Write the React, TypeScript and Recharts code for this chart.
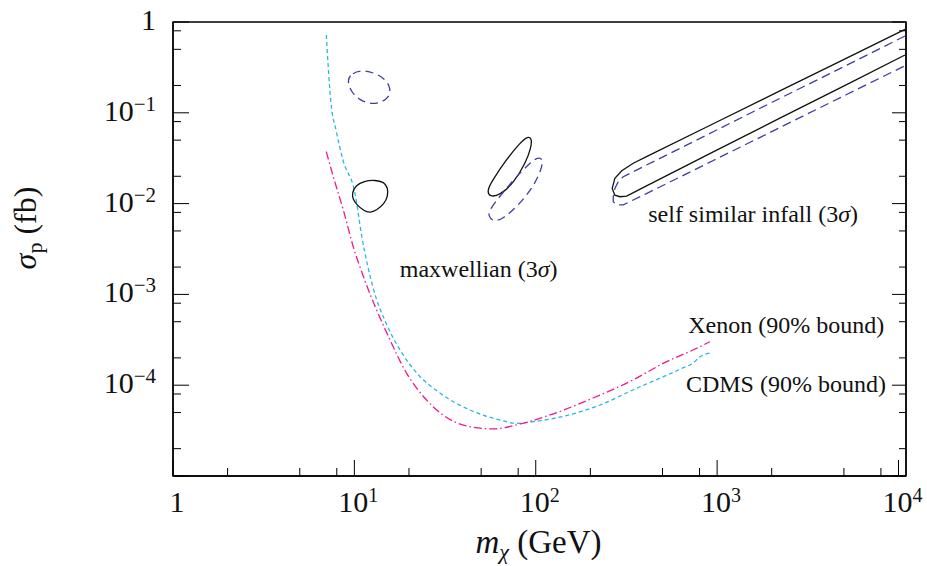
import React from 'react';
import { ComposedChart, Line, XAxis, YAxis, Scatter, ReferenceArea } from 'recharts';

const FONT = '"Liberation Serif", "Times New Roman", serif';

// Axis ticks
const xTicks = [1, 2, 5, 8, 10, 20, 50, 80, 100, 200, 500, 800, 1000, 2000, 5000, 8000, 10000];
const yTicks = [1e-5, 2e-5, 5e-5, 8e-5, 1e-4, 2e-4, 5e-4, 8e-4, 1e-3, 2e-3, 5e-3, 8e-3, 1e-2, 2e-2, 5e-2, 8e-2, 0.1, 0.2, 0.5, 0.8, 1];

// CDMS 90% bound
const cdmsMass = [7.0, 7.43, 7.92, 8.65, 10.07, 11.0, 12.65, 15.3, 18.3, 22.1, 29.6, 43.4, 63.5, 78.7, 96.5, 226, 343, 648, 736, 804, 913];
const cdmsSigma = [0.72, 0.128, 0.0647, 0.0302, 0.0131, 0.00429, 0.00121, 4.37e-4, 2.26e-4, 1.36e-4, 8.2e-5, 5.33e-5, 4.14e-5, 3.8e-5, 3.96e-5, 6.05e-5, 8.86e-5, 1.55e-4, 1.75e-4, 2.05e-4, 2.26e-4];

// Xenon 90% bound
const xenonMass = [7.0, 7.65, 8.69, 9.86, 11.4, 15.1, 19.4, 25.0, 30.8, 43.4, 58.3, 78.5, 120, 207, 343, 527, 736, 913];
const xenonSigma = [0.0373, 0.0198, 0.00851, 0.00335, 0.00144, 3.76e-4, 1.36e-4, 6.87e-5, 4.7e-5, 3.49e-5, 3.3e-5, 3.65e-5, 4.7e-5, 7.23e-5, 1.14e-4, 1.82e-4, 2.44e-4, 3.01e-4];

// Maxwellian 3 sigma regions (solid)
const maxLowMass = [9.7, 10.2, 11.3, 13.0, 14.6, 15.3, 15.3, 14.6, 13.3, 12.2, 11.3, 10.3, 9.8];
const maxLowSigma = [0.0131, 0.016, 0.0177, 0.0182, 0.0173, 0.0149, 0.0121, 0.0099, 0.0085, 0.0079, 0.0083, 0.0097, 0.0112];
const maxMidMass = [53.8, 57.4, 68.5, 81.8, 90.6, 95.3, 94.1, 88.3, 75.8, 63.5, 55.9];
const maxMidSigma = [0.0138, 0.0177, 0.0302, 0.0465, 0.0555, 0.0515, 0.041, 0.0287, 0.0169, 0.0124, 0.0118];

// Maxwellian 3 sigma regions (dashed)
const maxLowDMass = [9.1, 9.7, 11.15, 13.0, 14.75, 15.9, 15.5, 13.8, 12.2, 10.7, 9.58];
const maxLowDSigma = [0.23, 0.274, 0.296, 0.274, 0.236, 0.188, 0.146, 0.128, 0.125, 0.138, 0.17];
const maxMidDMass = [54.5, 55.9, 63.5, 76.8, 92.9, 102.8, 109.4, 108.2, 97.8, 79.8, 65.9, 58.8];
const maxMidDSigma = [0.0073, 0.0087, 0.0121, 0.0191, 0.028, 0.0326, 0.031, 0.0247, 0.0156, 0.0094, 0.0068, 0.0063];

// Self similar infall 3 sigma regions
const infallMass = [10860, 5176, 2218, 952, 408, 345, 298, 273, 264, 273, 291, 317, 408, 952, 2218, 5176, 10860];
const infallSigma = [0.831, 0.4, 0.174, 0.0757, 0.0329, 0.0278, 0.023, 0.019, 0.0147, 0.0124, 0.0119, 0.0121, 0.0157, 0.0371, 0.0872, 0.204, 0.433];
const infallDMass = [10860, 5176, 2218, 952, 408, 304, 285, 273, 267.5, 267.5, 279, 304, 408, 952, 2218, 5176, 10860];
const infallDSigma = [0.701, 0.334, 0.144, 0.0619, 0.0266, 0.0198, 0.0174, 0.0147, 0.0119, 0.0105, 0.0097, 0.0097, 0.0129, 0.0298, 0.0688, 0.159, 0.33];

// Annotations
const noteText = ['maxwellian (3σ)', 'self similar infall (3σ)', 'Xenon (90% bound)', 'CDMS (90% bound)'];
const noteMass = [17.8, 417, 693, 673];
const noteSigma = [1.57e-3, 6.2e-3, 3.73e-4, 8.5e-5];

const zip = (xs: number[], ys: number[]) => xs.map((x, i) => ({ x, y: ys[i] }));
const notes = noteText.map((text, i) => ({ x: noteMass[i], y: noteSigma[i], text }));

const isMajor = (v: number) => Math.abs(Math.log10(v) - Math.round(Math.log10(v))) < 1e-6;

const CYAN = '#26b6ec';
const MAGENTA = '#ec1a8c';
const BLUE = '#3d3da6';
const BLACK = '#111';

function XTick(props: any) {
  const { x, y, payload } = props;
  const v = payload.value;
  const major = isMajor(v);
  const e = Math.round(Math.log10(v));
  return (
    <g>
      <line x1={x} x2={x} y1={y} y2={y - (major ? 16 : 8)} stroke="#000" strokeWidth={1} />
      {major && (
        <text x={x + 4} y={y + 36} textAnchor="middle" fontFamily={FONT} fontSize={30} fill={BLACK}>
          {e === 0 ? '1' : (
            <>
              <tspan>10</tspan>
              <tspan fontSize={20} dy={-10}>{e}</tspan>
            </>
          )}
        </text>
      )}
    </g>
  );
}

function YTickLeft(props: any) {
  const { x, y, payload } = props;
  const v = payload.value;
  const major = isMajor(v);
  const e = Math.round(Math.log10(v));
  return (
    <g>
      <line x1={x} x2={x + (major ? 16 : 8)} y1={y} y2={y} stroke="#000" strokeWidth={1} />
      {major && e > -5 && (
        <text x={x - 17} y={y + 8} textAnchor="end" fontFamily={FONT} fontSize={30} fill={BLACK}>
          {e === 0 ? '1' : (
            <>
              <tspan>10</tspan>
              <tspan fontSize={21} dy={-10}>{'\u2212' + Math.abs(e)}</tspan>
            </>
          )}
        </text>
      )}
    </g>
  );
}

function YTickRight(props: any) {
  const { x, y, payload } = props;
  const major = isMajor(payload.value);
  return <line x1={x} x2={x - (major ? 14 : 7)} y1={y} y2={y} stroke="#000" strokeWidth={1} />;
}

function XLabel(props: any) {
  const vb = props.viewBox;
  return (
    <text x={vb.x + vb.width / 2 - 1} y={vb.y + 77} textAnchor="middle" fontFamily={FONT} fontSize={33} fill={BLACK}>
      <tspan fontStyle="italic">m</tspan>
      <tspan fontStyle="italic" fontSize={22} dy={6}>χ</tspan>
      <tspan dy={-6}>{' (GeV)'}</tspan>
    </text>
  );
}

function YLabel(props: any) {
  const vb = props.viewBox;
  const cx = vb.x + 36;
  const cy = vb.y + 206;
  return (
    <text x={cx} y={cy} transform={`rotate(-90, ${cx}, ${cy})`} textAnchor="middle" fontFamily={FONT} fontSize={32} fill={BLACK}>
      <tspan fontStyle="italic">σ</tspan>
      <tspan fontSize={22} dy={6}>p</tspan>
      <tspan dy={-6}>{' (fb)'}</tspan>
    </text>
  );
}

function NoteShape(props: any) {
  const { cx, cy, payload } = props;
  const parts = String(payload.text).split('σ');
  return (
    <text x={cx} y={cy} fontFamily={FONT} fontSize={24} fill={BLACK}>
      {parts.map((p, i) => (
        <React.Fragment key={i}>
          {i > 0 && <tspan fontStyle="italic">σ</tspan>}
          <tspan>{p}</tspan>
        </React.Fragment>
      ))}
    </text>
  );
}

export default function App() {
  const common = { dataKey: 'y', dot: false, activeDot: false, isAnimationActive: false, strokeWidth: 1.3 } as any;
  return (
    <div style={{ position: 'absolute', left: 0, top: 0 }}>
      <ComposedChart width={927} height={566} margin={{ top: 22, right: 0, bottom: 0, left: 0 }}>
        <XAxis
          dataKey="x"
          type="number"
          scale="log"
          domain={[1, 11000]}
          allowDataOverflow
          ticks={xTicks}
          interval={0}
          tick={XTick}
          tickLine={false}
          tickSize={0}
          tickMargin={0}
          height={90}
          axisLine={{ stroke: '#000', strokeWidth: 1.4 }}
          label={XLabel}
        />
        <YAxis
          dataKey="y"
          type="number"
          scale="log"
          domain={[1e-5, 1]}
          allowDataOverflow
          ticks={yTicks}
          interval={0}
          tick={YTickLeft}
          tickLine={false}
          tickSize={0}
          tickMargin={0}
          width={173}
          axisLine={{ stroke: '#000', strokeWidth: 1.4 }}
          label={YLabel}
        />
        <YAxis
          yAxisId="r"
          orientation="right"
          dataKey="y"
          type="number"
          scale="log"
          domain={[1e-5, 1]}
          allowDataOverflow
          ticks={yTicks}
          interval={0}
          tick={YTickRight}
          tickLine={false}
          tickSize={0}
          tickMargin={0}
          width={21}
          axisLine={{ stroke: '#000', strokeWidth: 1.4 }}
        />
        <ReferenceArea x1={1} x2={11000} y1={1e-5} y2={1} fill="none" fillOpacity={0} stroke="#000" strokeWidth={1.4} />

        <Line {...common} data={zip(cdmsMass, cdmsSigma)} type="monotone" stroke={CYAN} strokeDasharray="4 3" />
        <Line {...common} data={zip(xenonMass, xenonSigma)} type="monotone" stroke={MAGENTA} strokeDasharray="8 3 1.5 3" />

        <Line {...common} data={zip(maxLowMass, maxLowSigma)} type="basisClosed" stroke={BLACK} />
        <Line {...common} data={zip(maxMidMass, maxMidSigma)} type="basisClosed" stroke={BLACK} />
        <Line {...common} data={zip(maxLowDMass, maxLowDSigma)} type="basisClosed" stroke={BLUE} strokeDasharray="8 5" />
        <Line {...common} data={zip(maxMidDMass, maxMidDSigma)} type="basisClosed" stroke={BLUE} strokeDasharray="8 5" />

        <Line {...common} data={zip(infallMass, infallSigma)} type="linear" stroke={BLACK} />
        <Line {...common} data={zip(infallDMass, infallDSigma)} type="linear" stroke={BLUE} strokeDasharray="9 5" />

        <Scatter yAxisId="r" data={notes} dataKey="y" shape={NoteShape} isAnimationActive={false} />
      </ComposedChart>
    </div>
  );
}
